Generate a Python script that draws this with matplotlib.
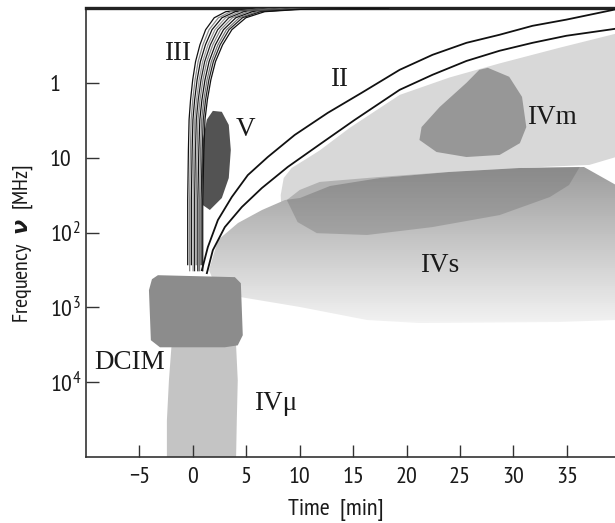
import numpy as np
import matplotlib
matplotlib.use('Agg')
import matplotlib.pyplot as plt
from matplotlib import font_manager as fm
from matplotlib.ticker import NullLocator

# pick a condensed sans for axes text (closest available to the original)
installed = {f.name for f in fm.fontManager.ttflist}
sans_prefs = ['PT Sans Narrow', 'Roboto Condensed', 'Fira Sans Condensed', 'Archivo Narrow',
              'Encode Sans Condensed', 'IBM Plex Sans Condensed', 'Open Sans Condensed',
              'Liberation Sans Narrow', 'DejaVu Sans']
sans = next(n for n in sans_prefs if n in installed or n == 'DejaVu Sans')
serif_prefs = ['Liberation Serif', 'Tinos', 'DejaVu Serif']
serif = next(n for n in serif_prefs if n in installed or n == 'DejaVu Serif')

plt.rcParams['font.family'] = [sans, 'DejaVu Sans']
plt.rcParams['mathtext.fontset'] = 'custom'
plt.rcParams['mathtext.rm'] = sans
plt.rcParams['mathtext.it'] = sans + ':italic'
plt.rcParams['mathtext.bf'] = sans + ':bold'

# axis ticks
time_ticks = [-5, 0, 5, 10, 15, 20, 25, 30, 35]
freq_ticks = [1, 10, 100, 1000, 10000]
freq_labels = ['1', '10', '$10^2$', '$10^3$', '$10^4$']

# broad light background of the moving type IV burst (time [min], freq [MHz])
ivm_bg_t = [8.41, 8.22, 8.5, 9.25, 10.47, 11.87, 14.67, 19.35, 24.0, 28.7, 34.3, 39.6,
            39.6, 37.1, 30.6, 24.0, 17.5, 11.9, 9.07]
ivm_bg_f = [126, 31.6, 18.7, 13.7, 10.7, 8.0, 4.0, 1.45, 0.85, 0.55, 0.34, 0.22,
            9.8, 12.5, 13.7, 15.5, 18.7, 31.6, 108]

# stationary type IV (IVs)
ivs_t = [1.5, 2.34, 4.21, 6.45, 8.6, 10.0, 12.8, 17.5, 24.0, 30.6, 36.6, 39.6,
         39.6, 34.3, 21.2, 16.3, 10.0, 4.39, 2.06]
ivs_f = [320, 126, 74.8, 50, 36.8, 34.7, 24, 18.7, 15.5, 13.7, 13.3, 23.2,
         1490, 1590, 1640, 1490, 1000, 733, 505]

# darker upper part of IVs
ivs_cap_t = [8.79, 10.0, 11.87, 17.5, 24.0, 30.6, 36.2, 35.2, 33.4, 28.7, 22.4, 16.3, 11.6, 9.8]
ivs_cap_f = [36.8, 27.0, 21.1, 18.1, 15.5, 13.7, 13.3, 23.2, 33.6, 58.5, 84.7, 108, 102, 72.6]

# moving type IV core (IVm)
ivm_t = [27.6, 29.6, 30.8, 31.2, 30.6, 28.7, 25.6, 22.8, 21.2, 21.4, 23.1, 25.6, 26.8]
ivm_f = [0.63, 0.83, 1.54, 3.9, 6.4, 9.2, 9.8, 8.4, 5.8, 3.9, 2.1, 1.0, 0.67]

# microwave type IV (IVmu)
ivmu_t = [-1.96, 4.02, 4.2, 4.11, 4.02, -2.43, -2.43, -2.24]
ivmu_f = [2750, 2750, 9460, 32500, 151000, 151000, 32500, 9460]

# DCIM
dcim_t = [-3.27, 3.93, 4.49, 4.67, 4.2, 2.99, -3.08, -3.93, -4.11, -3.83]
dcim_f = [372, 395, 476, 2360, 3220, 3420, 3420, 2750, 590, 421]

# type V
v_t = [1.31, 1.87, 2.71, 3.36, 3.55, 3.36, 2.71, 1.59, 0.93, 0.84, 0.93]
v_f = [3.1, 2.37, 2.44, 3.65, 7.9, 18.7, 34.6, 50, 43, 14.6, 5.8]

# type III bundle: base track and per-burst stretch / shift
iii_base_t = [0.19, 0.19, 0.19, 0.28, 0.37, 0.56, 0.84, 1.21, 1.78, 2.52, 3.64, 5.14, 8.13, 11.9, 15.1]
iii_base_f = [330, 274, 36.8, 7.9, 3.1, 1.69, 0.91, 0.52, 0.31, 0.195, 0.135, 0.112, 0.104, 0.102, 0.1007]
iii_stretch = [0.72, 0.78, 0.83, 0.88, 0.93, 0.98, 1.03, 1.08, 1.12, 1.17]
iii_shift = [-0.62, -0.45, -0.30, -0.15, -0.02, 0.12, 0.27, 0.42, 0.56, 0.70]
iii_start = [1, 0, 1, 0, 0, 1, 0, 0, 1, 0]
iii_colors = ['#111111', '#888888', '#111111', '#999999', '#222222',
              '#888888', '#111111', '#777777', '#222222', '#111111']

# type II: harmonic (upper) and fundamental (lower) lanes
ii_up_t = [0.84, 1.40, 2.34, 3.64, 5.14, 7.01, 9.53, 12.62, 15.79, 19.35, 22.43, 25.6,
           28.69, 31.78, 34.95, 39.6]
ii_up_f = [319, 157, 68.2, 33.6, 17.1, 9.8, 4.97, 2.52, 1.36, 0.67, 0.422, 0.292,
           0.228, 0.173, 0.143, 0.104]
ii_lo_t = [1.31, 1.87, 2.99, 4.58, 6.45, 8.88, 12.06, 15.14, 18.22, 19.35, 22.43, 25.6,
           28.69, 31.78, 34.95, 39.6]
ii_lo_f = [349, 172, 84.7, 45.7, 25.5, 13.3, 6.36, 3.13, 1.59, 1.24, 0.78, 0.51,
           0.373, 0.292, 0.235, 0.189]

# burst labels
label_text = ['III', 'II', 'V', 'IVm', 'IVs', 'DCIM', 'IV\u03bc']
label_t = [-1.4, 13.7, 4.9, 33.6, 23.1, -5.9, 7.7]
label_f = [0.40, 0.91, 4.25, 2.94, 273, 5400, 19200]

fig = plt.figure(figsize=(6.15, 5.23), dpi=100)
ax = fig.add_axes([86 / 615, 66 / 523, 529 / 615, 449 / 523])
ax.set_yscale('log')

ax.fill(ivm_bg_t, ivm_bg_f, color='#d8d8d8', lw=0, zorder=1)

# IVs: vertical grey gradient clipped to its outline
ivs_patch = ax.fill(ivs_t, ivs_f, facecolor='none', edgecolor='none', zorder=1)[0]
f_edges = np.geomspace(13, 1700, 80)
shade = np.linspace(0.61, 0.95, 79)[:, None]
mesh = ax.pcolormesh([0, 40], f_edges, shade, cmap='gray', vmin=0, vmax=1,
                     shading='flat', zorder=1.1)
mesh.set_clip_path(ivs_patch)
ax.fill(ivs_cap_t, ivs_cap_f, color='#666666', alpha=0.33, lw=0, zorder=1.2)

ax.fill(ivm_t, ivm_f, color='#979797', lw=0, zorder=1.3)
ax.fill(ivmu_t, ivmu_f, color='#c4c4c4', lw=0, zorder=1.3)
ax.fill(dcim_t, dcim_f, color='#8c8c8c', lw=0, zorder=1.4)
ax.fill(v_t, v_f, color='#535353', lw=0, zorder=1.4)

base_t = np.array(iii_base_t)
base_f = np.array(iii_base_f)
for s, o, k, c in zip(iii_stretch, iii_shift, iii_start, iii_colors):
    ax.plot(s * base_t[k:] + o, base_f[k:], color=c, lw=0.9, zorder=3,
            solid_capstyle='butt')

ax.fill(ii_up_t + ii_lo_t[::-1], ii_up_f + ii_lo_f[::-1], color='white', lw=0, zorder=2.8)
ax.plot(ii_up_t, ii_up_f, color='#111111', lw=1.3, zorder=3, solid_joinstyle='round')
ax.plot(ii_lo_t, ii_lo_f, color='#111111', lw=1.3, zorder=3, solid_joinstyle='round')

for txt, t, f in zip(label_text, label_t, label_f):
    ax.text(t, f, txt, fontsize=19.5, family=[serif, 'DejaVu Serif'],
            ha='center', va='center', color='#1a1a1a', zorder=4)

ax.set_xlim(-10, 39.5)
ax.set_ylim(1e5, 0.1)

ax.set_xticks(time_ticks)
ax.set_yticks(freq_ticks)
ax.set_yticklabels(freq_labels)
ax.yaxis.set_minor_locator(NullLocator())
ax.tick_params(direction='in', length=9, width=1, color='#333333',
               labelsize=17.5, labelcolor='#1a1a1a')
ax.tick_params(axis='x', pad=7)
ax.tick_params(axis='y', pad=26)
for lab in ax.get_yticklabels():
    lab.set_horizontalalignment('left')

ax.spines['right'].set_visible(False)
ax.spines['top'].set_linewidth(2.4)
ax.spines['top'].set_color('#222222')
for side in ['left', 'bottom']:
    ax.spines[side].set_linewidth(1.2)
    ax.spines[side].set_color('#333333')

ax.set_xlabel('Time  [min]', fontsize=17.5, color='#1a1a1a')
ax.xaxis.set_label_coords(0.473, -0.094)
ax.set_ylabel(r'Frequency  $\boldsymbol{\nu}$  [MHz]', fontsize=16, color='#1a1a1a')
ax.yaxis.set_label_coords(-0.096, 0.475)

fig.savefig('out.png', dpi=100)
